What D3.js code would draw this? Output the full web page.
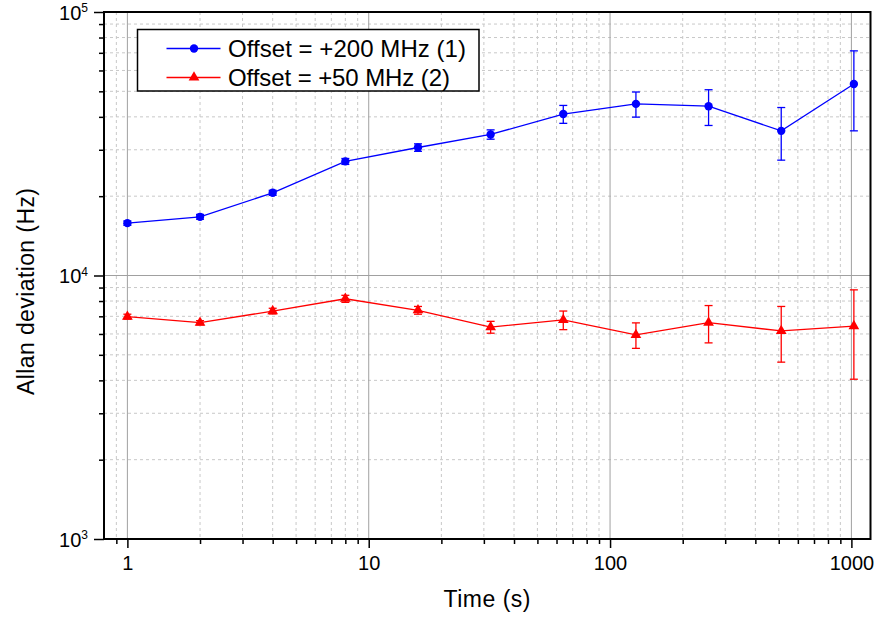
<!DOCTYPE html>
<html>
<head>
<meta charset="utf-8">
<script src="https://cdn.jsdelivr.net/npm/d3@7"></script>
<style>
  body { margin: 0; background: #fff; }
  svg { display: block; font-family: Arial, "Liberation Sans", sans-serif; }
</style>
</head>
<body>
<svg id="chart" width="876" height="617"></svg>
<script>
// averaging times (s)
const times = [1, 2, 4, 8, 16, 32, 64, 128, 256, 512, 1024];

// Offset = +200 MHz (1)
const blueVals = [15800, 16700, 20600, 27100, 30600, 34300, 41000, 44800, 43900, 35400, 53300];
const blueErr = [300, 350, 450, 700, 1000, 1400, 3200, 4900, 6800, 8000, 17900];

// Offset = +50 MHz (2)
const redVals = [6980, 6620, 7330, 8160, 7380, 6370, 6780, 5950, 6620, 6160, 6430];
const redErr = [150, 120, 180, 250, 250, 330, 550, 660, 1070, 1470, 2390];

const seriesNames = ["Offset = +200 MHz (1)", "Offset = +50 MHz (2)"];
const xTickLabels = [1, 10, 100, 1000];
const yTickLabels = [1e3, 1e4, 1e5];

const width = 876, height = 617;
const margin = { top: 12, right: 5.5, bottom: 78, left: 104 };
const innerW = width - margin.left - margin.right;
const innerH = height - margin.top - margin.bottom;

const svg = d3.select("#chart");
const g = svg.append("g").attr("transform", `translate(${margin.left},${margin.top})`);

const x = d3.scaleLog().domain([0.8, 1200]).range([0, innerW]);
const y = d3.scaleLog().domain([1e3, 1e5]).range([innerH, 0]);

// minor positions: 2..9 of each decade
const xMinor = [];
for (let e = -1; e <= 3; e++) for (let m = 2; m <= 9; m++) {
  const v = m * Math.pow(10, e);
  if (v > 0.8 && v < 1200) xMinor.push(v);
}
const yMinor = [];
for (let e = 3; e <= 4; e++) for (let m = 2; m <= 9; m++) yMinor.push(m * Math.pow(10, e));

// <========== grid ==========>
const grid = g.append("g");
grid.selectAll(".gx").data(xMinor).enter().append("line")
  .attr("x1", d => x(d)).attr("x2", d => x(d)).attr("y1", 0).attr("y2", innerH)
  .attr("stroke", "#c8c8c8").attr("stroke-dasharray", "3,3");
grid.selectAll(".gy").data(yMinor).enter().append("line")
  .attr("y1", d => y(d)).attr("y2", d => y(d)).attr("x1", 0).attr("x2", innerW)
  .attr("stroke", "#c8c8c8").attr("stroke-dasharray", "3,3");
grid.selectAll(".gxM").data(xTickLabels).enter().append("line")
  .attr("x1", d => x(d)).attr("x2", d => x(d)).attr("y1", 0).attr("y2", innerH)
  .attr("stroke", "#a0a0a0");
grid.selectAll(".gyM").data([1e4]).enter().append("line")
  .attr("y1", d => y(d)).attr("y2", d => y(d)).attr("x1", 0).attr("x2", innerW)
  .attr("stroke", "#a0a0a0");

// <========== axes ==========>
const xAxisMinor = d3.axisBottom(x).tickValues(xMinor).tickSize(5).tickFormat("");
const xAxisMajor = d3.axisBottom(x).tickValues(xTickLabels).tickSize(9).tickPadding(8)
  .tickFormat(d3.format("d"));
const yAxisMinor = d3.axisLeft(y).tickValues(yMinor).tickSize(5).tickFormat("");
const yAxisMajor = d3.axisLeft(y).tickValues(yTickLabels).tickSize(10).tickFormat("");

const gx1 = g.append("g").attr("transform", `translate(0,${innerH})`).call(xAxisMinor);
const gx2 = g.append("g").attr("transform", `translate(0,${innerH})`).call(xAxisMajor);
const gy1 = g.append("g").call(yAxisMinor);
const gy2 = g.append("g").call(yAxisMajor);
[gx1, gx2, gy1, gy2].forEach(a => {
  a.select(".domain").remove();
  a.selectAll("line").attr("stroke", "#000").attr("stroke-width", 1.5);
});
gx2.selectAll("text").attr("font-size", 20).attr("fill", "#000")
  .attr("font-family", "Arial, 'Liberation Sans', sans-serif");

// y tick labels 10^n with superscript
gy2.selectAll(".tick").each(function (d) {
  const t = d3.select(this).append("text")
    .attr("x", -16).attr("dy", "0.35em").attr("text-anchor", "end")
    .attr("fill", "#000").attr("font-size", 20)
    .attr("font-family", "Arial, 'Liberation Sans', sans-serif");
  t.append("tspan").text("10");
  t.append("tspan").attr("font-size", 12).attr("dy", "-0.62em").text(Math.round(Math.log10(d)));
});

// frame
g.append("rect").attr("width", innerW).attr("height", innerH)
  .attr("fill", "none").attr("stroke", "#000").attr("stroke-width", 2);

// <========== series ==========>
const series = [
  { vals: blueVals, err: blueErr, color: "#0000ff", marker: "circle" },
  { vals: redVals, err: redErr, color: "#ff0000", marker: "triangle" }
];
const line = d3.line().x(d => x(d.t)).y(d => y(d.v));
const cap = 4;

series.forEach(s => {
  const pts = times.map((t, i) => ({ t, v: s.vals[i], e: s.err[i] }));
  const sg = g.append("g");
  sg.append("path").datum(pts).attr("d", line)
    .attr("fill", "none").attr("stroke", s.color).attr("stroke-width", 1.3);
  const eb = sg.selectAll(".eb").data(pts).enter().append("g").attr("stroke", s.color).attr("stroke-width", 1.3);
  eb.append("line").attr("x1", d => x(d.t)).attr("x2", d => x(d.t))
    .attr("y1", d => y(d.v + d.e)).attr("y2", d => y(d.v - d.e));
  eb.append("line").attr("x1", d => x(d.t) - cap).attr("x2", d => x(d.t) + cap)
    .attr("y1", d => y(d.v + d.e)).attr("y2", d => y(d.v + d.e));
  eb.append("line").attr("x1", d => x(d.t) - cap).attr("x2", d => x(d.t) + cap)
    .attr("y1", d => y(d.v - d.e)).attr("y2", d => y(d.v - d.e));
  const sym = d3.symbol().type(s.marker === "circle" ? d3.symbolCircle : d3.symbolTriangle)
    .size(s.marker === "circle" ? 55 : 50);
  sg.selectAll(".m").data(pts).enter().append("path")
    .attr("transform", d => `translate(${x(d.t)},${y(d.v)})`)
    .attr("d", sym).attr("fill", s.color);
});

// <========== legend ==========>
const lg = svg.append("g").attr("transform", "translate(137.5,29.5)");
lg.append("rect").attr("width", 341.5).attr("height", 61.5)
  .attr("fill", "#fff").attr("stroke", "#000").attr("stroke-width", 1.5);
const legendTextLen = [238, 222];
series.forEach((s, i) => {
  const yy = 19 + i * 29;
  lg.append("line").attr("x1", 29).attr("x2", 83).attr("y1", yy).attr("y2", yy)
    .attr("stroke", s.color).attr("stroke-width", 1.3);
  lg.append("path").attr("transform", `translate(56.5,${yy})`)
    .attr("d", d3.symbol().type(s.marker === "circle" ? d3.symbolCircle : d3.symbolTriangle)
      .size(s.marker === "circle" ? 55 : 50))
    .attr("fill", s.color);
  lg.append("text").attr("x", 90.5).attr("y", yy).attr("dy", "0.35em")
    .attr("font-size", 24).attr("fill", "#000")
    .attr("textLength", legendTextLen[i]).attr("lengthAdjust", "spacing")
    .text(seriesNames[i]);
});

// <========== axis titles ==========>
svg.append("text").attr("x", 487).attr("y", 607)
  .attr("text-anchor", "middle").attr("font-size", 23).attr("fill", "#000")
  .attr("textLength", 87).attr("lengthAdjust", "spacing").text("Time (s)");
svg.append("text").attr("transform", "translate(34,291.5) rotate(-90)")
  .attr("text-anchor", "middle").attr("font-size", 23).attr("fill", "#000")
  .attr("textLength", 207).attr("lengthAdjust", "spacing")
  .text("Allan deviation (Hz)");
</script>
</body>
</html>
